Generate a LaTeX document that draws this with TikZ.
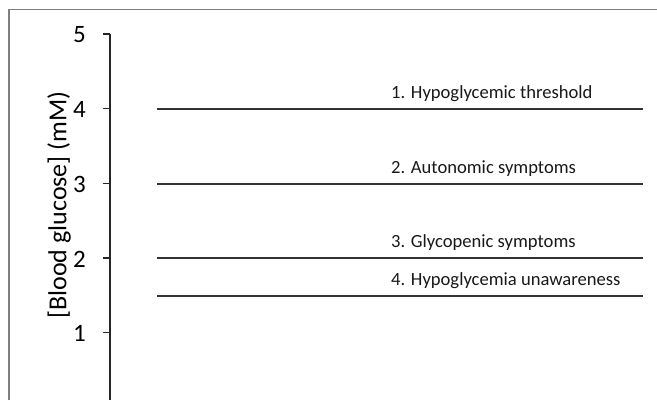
\documentclass[tikz,border=0pt]{standalone}
\usepackage{fontspec}
\setmainfont{Carlito}
\begin{document}
\begin{tikzpicture}[x=1pt,y=-1pt,
  frameline/.style={draw=black!50,line width=1.5pt},
  axisline/.style={draw=black!85,line width=1.5pt},
  level/.style={draw=black!80,line width=2pt},
  ticklabel/.style={anchor=east,font=\fontsize{25}{28}\selectfont,inner sep=0pt},
  levellabel/.style={anchor=base west,font=\fontsize{18.6}{21}\selectfont,inner sep=0pt,text=black!90}]
\useasboundingbox (0,0) rectangle (657,400);
\fill[white] (0,0) rectangle (657,400);
% frame
\coordinate (fTL) at (9,9.5);
\coordinate (fTR) at (657,9.5);
\coordinate (fBL) at (9,400);
\draw[frameline] (fBL) -- (fTL) -- (fTR);
% axis
\coordinate (aTop) at (110,34);
\coordinate (aBot) at (110,400);
\draw[axisline] (aTop) -- (aBot);
\foreach \v/\y in {5/34,4/108.5,3/183.5,2/258,1/332.5}{
  \coordinate (t\v) at (110,\y);
  \coordinate (tl\v) at (102.5,\y);
  \draw[axisline] (tl\v) -- (t\v);
  \node[ticklabel] (lab\v) at (86,\y+1) {\v};
}
\node[rotate=90,font=\fontsize{26}{30}\selectfont,inner sep=0pt] (ylab) at (59,205) {[Blood glucose] (mM)};
% levels
\foreach \n/\y/\t in {1/108.5/{1. Hypoglycemic threshold},2/183.5/{2. Autonomic symptoms},3/258/{3. Glycopenic symptoms},4/295.5/{4. Hypoglycemia unawareness}}{
  \coordinate (ls\n) at (157,\y);
  \coordinate (le\n) at (643,\y);
  \draw[level] (ls\n) -- (le\n);
  \node[levellabel] (txt\n) at (391,\y-10.5) {\t};
}
\end{tikzpicture}
\end{document}
